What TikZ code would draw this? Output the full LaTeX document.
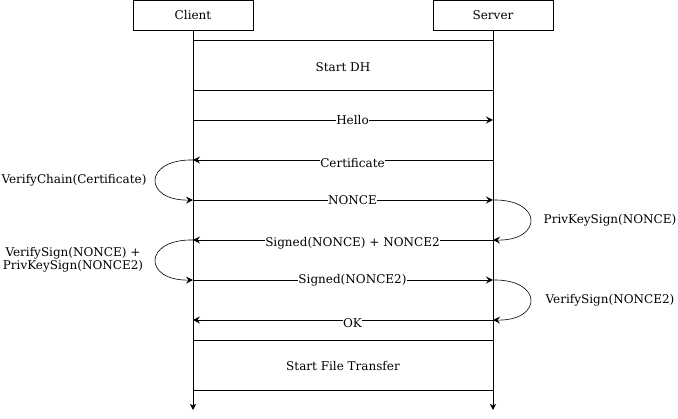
\documentclass[tikz,border=0pt]{standalone}
\usepackage{fontspec}
\setmainfont{DejaVu Serif}
\usetikzlibrary{arrows.meta}
\begin{document}
\begin{tikzpicture}[x=1pt,y=-1pt,
  font=\fontsize{12}{14}\selectfont,
  actor/.style={draw,line width=0.9pt,minimum width=120pt,minimum height=30pt,inner sep=0pt},
  band/.style={draw,line width=0.9pt,minimum width=300pt,minimum height=50pt,inner sep=0pt},
  msg/.style={line width=0.9pt,-{Stealth[length=7pt,width=7pt,inset=2.5pt]}},
  loop/.style={line width=0.6pt,-{Stealth[length=7pt,width=7pt,inset=2.5pt]}},
  lbl/.style={fill=white,inner sep=0.5pt,xshift=9.5pt},
  lblb/.style={lbl,yshift=-3pt},
  life/.style={line width=0.9pt,-{Stealth[length=6pt,width=6pt,inset=1.5pt]}}]
\useasboundingbox (0,0) rectangle (678,419);
\node[actor] (client) at (193,15.5) {Client};
\node[actor] (server) at (493,15.5) {Server};
\coordinate (cend) at (193,410);
\coordinate (send) at (493,410);
\draw[life] (client.south) -- (cend);
\draw[life] (server.south) -- (send);
\node[band] (dh) at (343,65) {};
\node (dht) at (343,67) {Start DH};
\node[band] (ft) at (343,365) {};
\node (ftt) at (343,366.5) {Start File Transfer};
\foreach \y in {120,160,200,240,280,320}{
  \coordinate (c\y) at (193,\y);
  \coordinate (s\y) at (493,\y);
}
\draw[msg] (c120) -- node[lbl]{Hello} (s120);
\draw[msg] (s160) -- node[lblb]{Certificate} (c160);
\draw[msg] (c200) -- node[lbl]{NONCE} (s200);
\draw[msg] (s240) -- node[lblb]{Signed(NONCE) + NONCE2} (c240);
\draw[msg] (c280) -- node[lbl]{Signed(NONCE2)} (s280);
\draw[msg] (s320) -- node[lblb]{OK} (c320);
\draw[loop] (c160) .. controls (143,159) and (143,201) .. (c200);
\draw[loop] (c240) .. controls (143,239) and (143,281) .. (c280);
\draw[loop] (s200) .. controls (543,199) and (543,241) .. (s240);
\draw[loop] (s280) .. controls (543,279) and (543,321) .. (s320);
\node (vc) at (74,180) {VerifyChain(Certificate)};
\node[align=center,font=\fontsize{12}{13}\selectfont] (vs) at (73,260) {VerifySign(NONCE) +\\PrivKeySign(NONCE2)};
\node (pk) at (610,220.5) {PrivKeySign(NONCE)};
\node (vs2) at (610,300.5) {VerifySign(NONCE2)};
\end{tikzpicture}
\end{document}
